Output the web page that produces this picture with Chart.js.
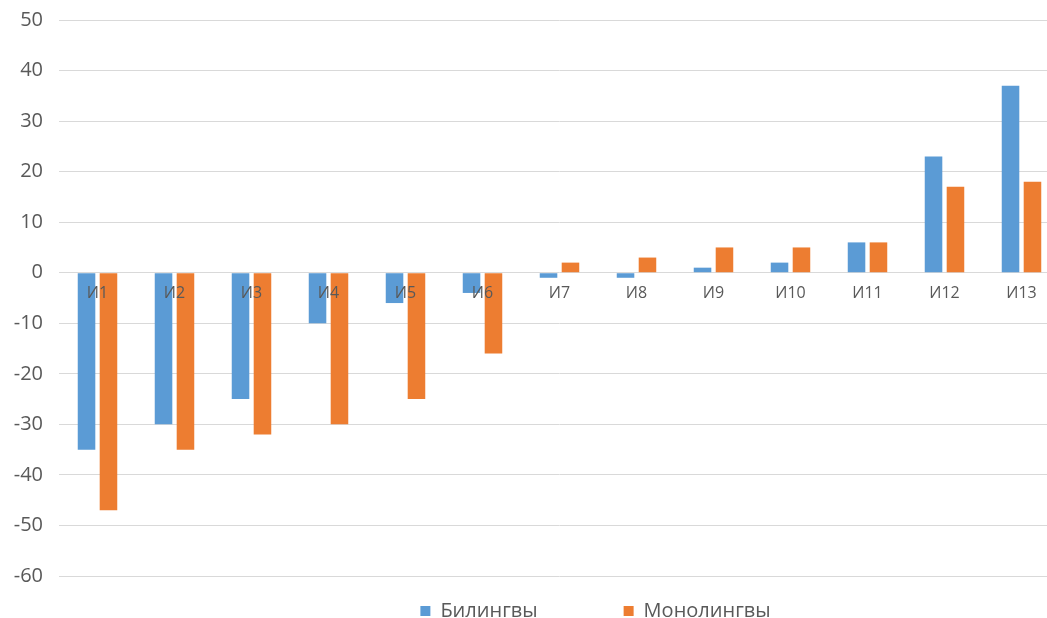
<!DOCTYPE html>
<html>
<head>
<meta charset="utf-8">
<script src="https://cdn.jsdelivr.net/npm/chart.js@4/dist/chart.umd.min.js"></script>
<style>
  html, body { margin: 0; padding: 0; background: #fff; overflow: hidden; }
  #wrap { width: 1062px; height: 618px; }
</style>
</head>
<body>
<div id="wrap"><canvas id="chart" width="1062" height="618"></canvas></div>
<script>
// Данные
const categories = ['И1', 'И2', 'И3', 'И4', 'И5', 'И6', 'И7', 'И8', 'И9', 'И10', 'И11', 'И12', 'И13'];
const bilingual = [-35, -30, -25, -10, -6, -4, -1, -1, 1, 2, 6, 23, 37];
const monolingual = [-47, -35, -32, -30, -25, -16, 2, 3, 5, 5, 6, 17, 18];
const yMin = -60, yMax = 50, yStep = 10;

Chart.defaults.font.family = "'Open Sans', sans-serif";
Chart.defaults.color = '#595959';

const LEGEND_GAP = 86;

// сдвиг легенды (в Excel она центрирована по другой ширине)
// низ растягиваем до края, иначе клип легенды срежет текст
const legendShift = {
    id: 'legendShift',
    afterLayout(chart) {
        const l = chart.legend;
        if (!l) return;
        l.left += 65;
        l.right += 65;
        l.top -= 61;
        l.bottom = chart.height;
    }
};

const ctx = document.getElementById('chart').getContext('2d');
const chart = new Chart(ctx, {
    type: 'bar',
    data: {
        labels: categories,
        datasets: [{
            label: 'Билингвы',
            data: bilingual,
            backgroundColor: '#5B9BD5',
            barPercentage: 0.8,
            categoryPercentage: 0.57
        }, {
            label: 'Монолингвы',
            data: monolingual,
            backgroundColor: '#ED7D31',
            barPercentage: 0.8,
            categoryPercentage: 0.57
        }]
    },
    options: {
        responsive: false,
        animation: false,
        layout: { padding: { left: 1, right: 2, top: 20, bottom: 4 } },
        scales: {
            x: {
                position: { y: 0 },
                afterFit: (s) => { s.height = 0; },
                grid: { display: false, drawTicks: false },
                border: { display: false },
                ticks: { z: 1, font: { size: 16 }, color: '#595959', padding: 11, maxRotation: 0 }
            },
            y: {
                min: yMin,
                max: yMax,
                afterFit: (s) => {
                    s.width = 58;
                    s.paddingTop = 0;
                    s.paddingBottom = 0;
                },
                ticks: { stepSize: yStep, font: { size: 20 }, color: '#595959', padding: 16 },
                grid: { color: '#D9D9D9', lineWidth: 1, drawTicks: false },
                border: { display: false }
            }
        },
        plugins: {
            legend: {
                position: 'bottom',
                maxHeight: 38,
                labels: {
                    boxWidth: 10,
                    boxHeight: 10,
                    padding: LEGEND_GAP,
                    font: { size: 20 },
                    color: '#595959'
                }
            },
            tooltip: { enabled: false }
        }
    },
    plugins: [legendShift]
});
</script>
</body>
</html>
